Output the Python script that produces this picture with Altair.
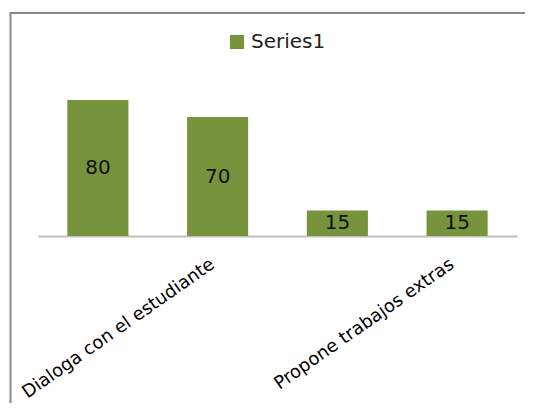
import altair as alt
import pandas as pd

# Data
positions = [1, 2, 3, 4]
tick_labels = ["", "Dialoga con el estudiante", "", "Propone trabajos extras"]
values = [80, 70, 15, 15]
series = ["Series1", "Series1", "Series1", "Series1"]

df = pd.DataFrame({"pos": positions, "value": values, "series": series})

GREEN = "#77933C"
FONT = "DejaVu Sans"

label_js = "[" + ",".join("'" + t + "'" for t in tick_labels) + "]"

x_enc = alt.X(
    "pos:O",
    title=None,
    scale=alt.Scale(paddingInner=0.49, paddingOuter=0.245),
    axis=alt.Axis(
        labelAngle=-35,
        labelExpr=label_js + "[datum.value - 1]",
        labelFontSize=18,
        labelColor="#000000",
        labelPadding=19,
        labelOffset=-10,
        labelLimit=0,
        ticks=False,
        domainColor="#BFBFBF",
        domainWidth=2,
        grid=False,
    ),
)

y_scale = alt.Scale(domain=[0, 90])

bars = alt.Chart(df).mark_bar(strokeWidth=0).encode(
    x=x_enc,
    y=alt.Y("value:Q", scale=y_scale, axis=None),
    color=alt.Color(
        "series:N",
        scale=alt.Scale(range=[GREEN]),
        legend=alt.Legend(
            title=None,
            orient="none",
            legendX=189,
            legendY=-51,
            symbolType="square",
            symbolSize=200,
            symbolStrokeWidth=0,
            labelFontSize=20,
            labelColor="#222222",
            padding=0,
            labelOffset=4,
        ),
    ),
)

labels = alt.Chart(df).transform_calculate(mid="datum.value / 2").mark_text(
    fontSize=20, color="#111111", font=FONT, baseline="middle"
).encode(
    x=alt.X("pos:O"),
    y=alt.Y("mid:Q", scale=y_scale),
    text=alt.Text("value:Q"),
)

frame_data = alt.Data(values=[{"k": 1}])
frame_top = alt.Chart(frame_data).mark_rule(color="#888888", strokeWidth=2).encode(
    x=alt.value(-28), x2=alt.value(520), y=alt.value(-70)
)
frame_left = alt.Chart(frame_data).mark_rule(color="#888888", strokeWidth=2).encode(
    x=alt.value(-27.5), y=alt.value(-71), y2=alt.value(340)
)

chart = alt.layer(bars, labels, frame_top, frame_left).properties(
    width=479,
    height=153,
    autosize=alt.AutoSizeParams(type="none"),
    padding={"left": 30, "top": 75, "right": 8, "bottom": 167},
    background="white",
).configure(font=FONT, view=alt.ViewConfig(stroke="transparent", strokeWidth=0))

chart.save("out.html", embed_options={"renderer": "svg", "actions": False})
